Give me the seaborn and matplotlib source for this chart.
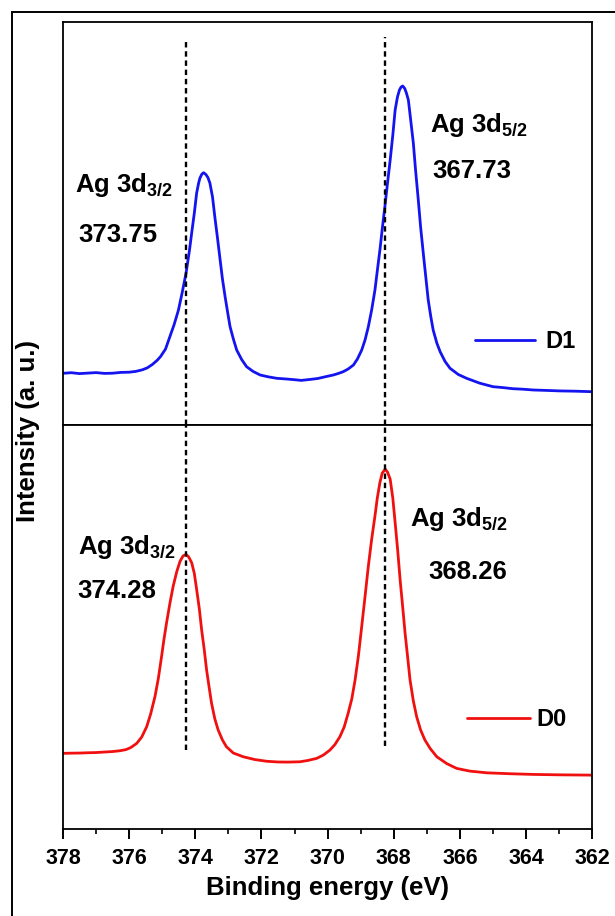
import numpy as np
import pandas as pd
import matplotlib
matplotlib.use("Agg")
import matplotlib.pyplot as plt
from matplotlib.patches import Rectangle
from matplotlib.ticker import MultipleLocator
import seaborn as sns

# ---- Ag 3d XPS spectra -------------------------------------------------
d1_energy = [378.00, 377.75, 377.50, 377.25, 377.00, 376.75, 376.50, 376.25, 376.00, 375.80,
             375.60, 375.45, 375.30, 375.15, 375.05, 374.90, 374.77, 374.64, 374.51, 374.40,
             374.28, 374.18, 374.11, 374.03, 373.96, 373.90, 373.86, 373.80, 373.75, 373.68,
             373.62, 373.56, 373.48, 373.41, 373.33, 373.25, 373.18, 373.10, 373.02, 372.95,
             372.85, 372.75, 372.60, 372.45, 372.25, 372.04, 371.80, 371.54, 371.25, 371.00,
             370.80, 370.55, 370.30, 370.05, 369.83, 369.68, 369.53, 369.38, 369.22, 369.10,
             368.97, 368.87, 368.77, 368.67, 368.57, 368.50, 368.42, 368.35, 368.27, 368.19,
             368.11, 368.03, 367.96, 367.89, 367.83, 367.78, 367.73, 367.67, 367.62, 367.56,
             367.49, 367.41, 367.34, 367.26, 367.19, 367.11, 367.03, 366.96, 366.88, 366.81,
             366.70, 366.60, 366.45, 366.30, 366.05, 365.80, 365.40, 365.00, 364.70, 364.40,
             364.10, 363.78, 363.40, 363.00, 362.50, 362.00]
d1_intensity = [51.7, 52.3, 51.4, 51.9, 52.4, 51.6, 51.8, 52.6, 52.8, 53.6,
                55.2, 57.2, 60.5, 64.8, 68.5, 76.0, 88.3, 100.5, 115.0, 132.0,
                152.0, 174.0, 192.0, 212.0, 232.0, 242.0, 247.0, 251.0, 252.3, 250.5,
                247.5, 242.0, 228.0, 208.0, 187.0, 165.0, 146.0, 128.3, 112.0, 98.3,
                86.0, 75.0, 65.5, 58.3, 53.5, 50.0, 48.2, 46.7, 46.0, 45.3,
                44.6, 45.5, 46.5, 48.4, 50.0, 51.5, 53.3, 56.0, 60.0, 66.0,
                75.0, 85.0, 98.3, 115.0, 135.0, 154.0, 175.0, 196.0, 218.3, 242.0,
                265.0, 290.0, 315.0, 328.0, 335.0, 338.0, 339.0, 336.5, 332.0, 325.0,
                305.0, 282.0, 254.0, 225.0, 198.0, 172.0, 147.0, 125.0, 108.0, 95.0,
                82.0, 73.3, 63.5, 56.7, 50.5, 46.7, 41.8, 38.3, 37.4, 36.3,
                35.8, 35.0, 34.6, 34.1, 33.8, 33.3]

d0_energy = [378.00, 377.75, 377.50, 377.25, 377.00, 376.75, 376.50, 376.28, 376.10, 375.95,
             375.77, 375.62, 375.47, 375.35, 375.22, 375.12, 375.02, 374.95, 374.87, 374.77,
             374.67, 374.56, 374.46, 374.37, 374.28, 374.20, 374.11, 374.03, 373.96, 373.88,
             373.81, 373.73, 373.66, 373.58, 373.51, 373.41, 373.31, 373.18, 373.06, 372.85,
             372.55, 372.20, 371.84, 371.50, 371.20, 370.84, 370.60, 370.33, 370.13, 369.93,
             369.78, 369.63, 369.50, 369.38, 369.27, 369.17, 369.07, 368.97, 368.87, 368.77,
             368.67, 368.57, 368.50, 368.42, 368.35, 368.26, 368.19, 368.11, 368.03, 367.96,
             367.88, 367.81, 367.73, 367.66, 367.58, 367.51, 367.41, 367.31, 367.19, 367.06,
             366.90, 366.70, 366.40, 366.10, 365.70, 365.19, 364.50, 363.78, 363.00, 362.00]
d0_intensity = [75.7, 75.9, 76.0, 76.3, 76.5, 77.0, 77.5, 78.3, 79.4, 81.5,
                85.7, 92.0, 102.3, 115.0, 132.3, 150.0, 172.3, 189.0, 205.7, 225.0,
                242.3, 257.0, 267.3, 272.5, 274.0, 271.5, 265.7, 255.0, 239.0, 220.0,
                199.0, 179.0, 159.0, 141.0, 125.7, 110.0, 99.0, 89.0, 82.3, 76.0,
                72.3, 69.5, 67.8, 67.1, 67.0, 67.3, 68.6, 70.7, 74.0, 79.0,
                84.5, 92.3, 102.0, 115.7, 130.0, 149.0, 173.0, 202.3, 232.0, 262.3,
                289.0, 312.3, 330.0, 345.7, 355.0, 359.0, 356.0, 349.0, 330.0, 305.7,
                277.0, 249.0, 221.0, 195.7, 171.0, 149.0, 128.0, 112.3, 99.0, 89.0,
                80.5, 72.3, 65.5, 60.7, 58.0, 56.3, 55.4, 54.7, 54.3, 54.0]

# peak positions (eV): [3d3/2, 3d5/2]
d1_peaks = [373.75, 367.73]
d0_peaks = [374.28, 368.26]
peak_names = ["Ag 3d$_{3/2}$", "Ag 3d$_{5/2}$"]

x_ticks = [378, 376, 374, 372, 370, 368, 366, 364, 362]

# ---- style -------------------------------------------------------------
sns.set_style("ticks")
plt.rcParams["font.family"] = ["Liberation Sans", "DejaVu Sans"]
plt.rcParams["font.weight"] = "bold"
plt.rcParams["mathtext.default"] = "regular"
plt.rcParams["text.color"] = "black"
plt.rcParams["axes.labelcolor"] = "black"
plt.rcParams["xtick.color"] = "black"
plt.rcParams["ytick.color"] = "black"
plt.rcParams["axes.edgecolor"] = "black"
plt.rcParams["axes.linewidth"] = 1.3

W, H = 615, 916
fig = plt.figure(figsize=(W / 100, H / 100), dpi=100)

left, right = 63 / W, 592.3 / W
top, mid, bottom = 1 - 22 / H, 1 - 425 / H, 1 - 829.3 / H
ax1 = fig.add_axes([left, mid, right - left, top - mid])
ax2 = fig.add_axes([left, bottom, right - left, mid - bottom], sharex=ax1)

df1 = pd.DataFrame({"energy": d1_energy, "intensity": d1_intensity})
df0 = pd.DataFrame({"energy": d0_energy, "intensity": d0_intensity})

sns.lineplot(data=df1, x="energy", y="intensity", ax=ax1, color="#1414f0",
             lw=2.0, label="D1")
sns.lineplot(data=df0, x="energy", y="intensity", ax=ax2, color="#f01010",
             lw=2.0, label="D0")

ax1.set_xlim(378, 362)
ax1.set_ylim(0, 403)
ax2.set_ylim(0, 403)

# guide lines through the D0 peak positions, spanning both panels
dash = dict(color="black", lw=1.7, ls=(0, (2.3, 1.6)), zorder=3)
ax1.axvline(d0_peaks[0], ymin=0, ymax=0.955, **dash)
ax1.axvline(d0_peaks[1], ymin=0, ymax=0.963, **dash)
ax2.axvline(d0_peaks[0], ymin=0.196, ymax=1, **dash)
ax2.axvline(d0_peaks[1], ymin=0.205, ymax=1, **dash)

for ax in (ax1, ax2):
    ax.set_xlabel("")
    ax.set_ylabel("")
    ax.set_yticks([])
    for s in ax.spines.values():
        s.set_linewidth(1.3)
        s.set_color("black")

ax1.tick_params(axis="x", which="both", bottom=False, labelbottom=False)
ax2.set_xticks(x_ticks)
ax2.xaxis.set_minor_locator(MultipleLocator(1))
ax2.tick_params(axis="x", which="major", direction="out", length=7, width=1.4,
                pad=6.5, labelsize=15.5, colors="black")
ax2.tick_params(axis="x", which="minor", direction="out", length=3.5, width=1.2,
                colors="black")
for lab in ax2.get_xticklabels():
    lab.set_fontweight("bold")

# peak annotations
tk = dict(fontsize=18.5, fontweight="bold", ha="left", va="baseline", color="black")
ax1.text(377.64, 233.3, peak_names[0], **tk)
ax1.text(377.55, 183.3, f"{d1_peaks[0]:.2f}", **tk)
ax1.text(366.91, 293.3, peak_names[1], **tk)
ax1.text(366.82, 246.7, f"{d1_peaks[1]:.2f}", **tk)

ax2.text(377.55, 274.0, peak_names[0], **tk)
ax2.text(377.58, 230.7, f"{d0_peaks[0]:.2f}", **tk)
ax2.text(367.51, 302.3, peak_names[1], **tk)
ax2.text(366.97, 249.0, f"{d0_peaks[1]:.2f}", **tk)

leg_kw = dict(frameon=False, loc="center left", borderpad=0, borderaxespad=0,
              prop={"size": 17, "weight": "bold"}, labelcolor="black")
ax1.legend(bbox_to_anchor=(0.778, 0.207), handlelength=2.55, handletextpad=0.42, **leg_kw)
ax2.legend(bbox_to_anchor=(0.763, 0.2715), handlelength=2.68, handletextpad=0.28, **leg_kw)

fig.text((63 + 592.3) / 2 / W, 1 - 888 / H, "Binding energy (eV)", ha="center",
         va="center", fontsize=18.5, fontweight="bold", color="black")
fig.text(28 / W, 1 - 431 / H, "Intensity (a. u.)", ha="center", va="center",
         rotation=90, fontsize=18.5, fontweight="bold", color="black")

# outer frame
fig.patches.append(Rectangle((11.5 / W, -0.2), 1.5, 1 - 12 / H + 0.2,
                             transform=fig.transFigure, fill=False,
                             lw=1.4, ec="black", zorder=10))

fig.savefig("out.png", dpi=100, facecolor="white")
